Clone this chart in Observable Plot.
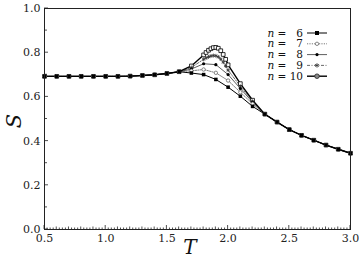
<!DOCTYPE html>
<html><head>
<meta charset="utf-8">
<script src="https://cdn.jsdelivr.net/npm/d3@7"></script>
<script src="https://cdn.jsdelivr.net/npm/@observablehq/plot@0.6"></script>
<style>
body{margin:0;background:#fff}
</style>
</head><body><div id="chart"></div>
<script>
// Temperatures
const T_low = [0.5,0.6,0.7,0.8,0.9,1.0,1.1,1.2,1.3,1.4,1.5,1.6];
const S_low = [0.693,0.693,0.693,0.693,0.693,0.693,0.693,0.694,0.697,0.700,0.706,0.714];
const T_high = [2.3,2.4,2.5,2.6,2.7,2.8,2.9,3.0];
const S_high = [0.522,0.486,0.452,0.426,0.404,0.382,0.363,0.345];
const T_mid = [1.7,1.8,1.9,2.0,2.1,2.2];
const T_midFine = [1.7,1.8,1.82,1.84,1.86,1.88,1.9,1.92,1.94,1.96,1.98,2.0,2.1,2.2];
const S_n6 = [0.708,0.701,0.679,0.644,0.603,0.557];
const S_n7 = [0.718,0.724,0.709,0.674,0.621,0.569];
const S_n8 = [0.726,0.750,0.746,0.701,0.638,0.576];
const S_n9 = [0.733,0.770,0.776,0.781,0.785,0.787,0.786,0.781,0.771,0.757,0.740,0.721,0.648,0.580];
const S_n10 = [0.740,0.790,0.801,0.811,0.818,0.823,0.824,0.820,0.809,0.792,0.770,0.745,0.660,0.585];
const seriesNames = ["6","7","8","9","10"];
const xTicks = [0.5,1.0,1.5,2.0,2.5,3.0];
const yTicks = [0.0,0.2,0.4,0.6,0.8,1.0];

const SERIF = "'DejaVu Serif', 'Liberation Serif', serif";

function build(tm, sm){
  const t = [...T_low, ...tm, ...T_high];
  const s = [...S_low, ...sm, ...S_high];
  return t.map((v,i)=>({T:v, S:s[i]}));
}
const d6 = build(T_mid, S_n6), d7 = build(T_mid, S_n7), d8 = build(T_mid, S_n8);
const d9 = build(T_midFine, S_n9), d10 = build(T_midFine, S_n10);

const styles = {
  "6": {stroke:"#000", width:1, dash:null, sym:"sqf"},
  "7": {stroke:"#555", width:0.8, dash:"1.2,1.2", sym:"circo"},
  "8": {stroke:"#333", width:0.8, dash:null, sym:"dotf"},
  "9": {stroke:"#444", width:0.8, dash:"3,1.5,1,1.5", sym:"star"},
  "10": {stroke:"#000", width:1.4, dash:null, sym:"sqo"}
};
const dataBy = {"6":d6,"7":d7,"8":d8,"9":d9,"10":d10};

const marks = [];
for (const k of seriesNames) {
  const st = styles[k], d = dataBy[k];
  marks.push(Plot.line(d, {x:"T", y:"S", stroke:st.stroke, strokeWidth:st.width, strokeDasharray:st.dash}));
}
marks.push(Plot.dot(d10, {x:"T", y:"S", symbol:"square", r:2.1, fill:"#fff", stroke:"#000", strokeWidth:0.8}));
marks.push(Plot.dot(d9, {x:"T", y:"S", symbol:"asterisk", r:1.8, stroke:"#333", strokeWidth:0.8}));
marks.push(Plot.dot(d8, {x:"T", y:"S", symbol:"circle", r:1.6, fill:"#000"}));
marks.push(Plot.dot(d7, {x:"T", y:"S", symbol:"circle", r:1.7, fill:"#fff", stroke:"#555", strokeWidth:0.7}));
marks.push(Plot.dot(d6, {x:"T", y:"S", symbol:"square", r:2.0, fill:"#000"}));
marks.push(Plot.frame({stroke:"#222", strokeWidth:1}));
marks.push(Plot.axisX({ticks:xTicks, tickSize:0, tickPadding:5, tickFormat:d3.format(".1f"), fontSize:11, label:null, color:"#222"}));
marks.push(Plot.axisY({ticks:yTicks, tickSize:0, tickPadding:4, tickFormat:d3.format(".1f"), fontSize:11, label:null, color:"#222"}));

const plot = Plot.plot({
  width:359, height:260,
  marginLeft:44, marginRight:9, marginTop:8, marginBottom:31,
  x:{domain:[0.5,3.0]},
  y:{domain:[0,1]},
  style:{fontFamily:SERIF, background:"#fff"},
  marks
});
document.getElementById("chart").appendChild(plot);

const svg = d3.select(plot);
const xs = plot.scale("x"), ys = plot.scale("y");
const x0 = xs.apply(0.5), y0 = ys.apply(0);
const g = svg.append("g").attr("stroke","#222").attr("stroke-width",0.8);
for (let i = 0; i <= 10; i++) {
  const v = i/10;
  const L = i % 2 === 0 ? 4 : 3;
  g.append("line").attr("x1",x0).attr("x2",x0+L).attr("y1",ys.apply(v)).attr("y2",ys.apply(v));
}
for (let i = 0; i <= 100; i++) {
  const v = 0.5 + i*0.025;
  const L = i % 20 === 0 ? 4 : (i % 4 === 0 ? 2.5 : 1.5);
  g.append("line").attr("x1",xs.apply(v)).attr("x2",xs.apply(v)).attr("y1",y0).attr("y2",y0-L);
}
svg.append("text").attr("x",190).attr("y",254).attr("text-anchor","middle")
  .attr("font-style","italic").attr("font-size",20).attr("fill","#111").text("T");
svg.append("text").attr("transform","translate(21,121) rotate(-90)").attr("text-anchor","middle")
  .attr("font-style","italic").attr("font-size",21).attr("fill","#111").text("S");

const leg = svg.append("g");
seriesNames.forEach((k,i)=>{
  const yy = 33 + i*10.8;
  const st = styles[k];
  const t = leg.append("text").attr("x",303).attr("y",yy+3.5).attr("text-anchor","end")
    .attr("font-size",10.5).attr("fill","#111");
  t.append("tspan").attr("font-style","italic").text("n");
  t.append("tspan").text(" = " + (k.length < 2 ? "\u2007" : "") + k);
  leg.append("line").attr("x1",307).attr("x2",327).attr("y1",yy).attr("y2",yy)
    .attr("stroke",st.stroke).attr("stroke-width",st.width).attr("stroke-dasharray",st.dash);
  const cx = 317;
  if (st.sym==="sqf") leg.append("rect").attr("x",cx-2).attr("y",yy-2).attr("width",4).attr("height",4).attr("fill","#000");
  if (st.sym==="circo") leg.append("circle").attr("cx",cx).attr("cy",yy).attr("r",1.7).attr("fill","#fff").attr("stroke","#555").attr("stroke-width",0.7);
  if (st.sym==="dotf") leg.append("circle").attr("cx",cx).attr("cy",yy).attr("r",1.6).attr("fill","#000");
  if (st.sym==="star") leg.append("path").attr("d",d3.symbol(d3.symbolAsterisk, 14)()).attr("transform",`translate(${cx},${yy})`).attr("stroke","#333").attr("stroke-width",0.8).attr("fill","none");
  if (st.sym==="sqo") leg.append("circle").attr("cx",cx).attr("cy",yy).attr("r",2.3).attr("fill","#888").attr("stroke","#222").attr("stroke-width",0.8);
});
svg.selectAll("text").attr("font-family", SERIF).style("font-family", SERIF);
</script>
</body></html>
